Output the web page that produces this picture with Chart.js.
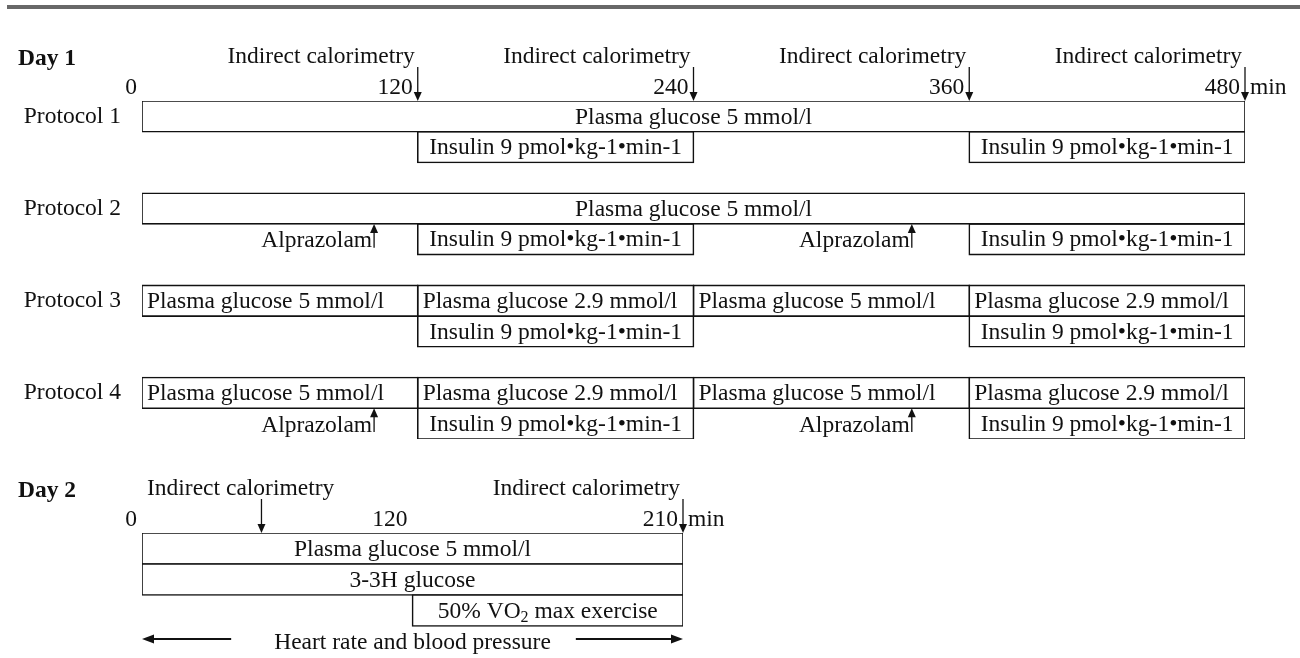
<!DOCTYPE html>
<html>
<head>
<meta charset="utf-8">
<script src="https://cdn.jsdelivr.net/npm/chart.js@4.4.1/dist/chart.umd.min.js"></script>
<style>
  html, body { margin: 0; padding: 0; background: #fff; }
  body { width: 1300px; height: 658px; position: relative; overflow: hidden; }
  .rule { position: absolute; left: 7px; right: 0; top: 5px; height: 4px; background: #686868; }
  #day1 { position: absolute; left: 0; top: 0; }
  #day2 { position: absolute; left: 0; top: 440px; }
</style>
</head>
<body>
<div class="rule"></div>
<canvas id="day1" width="1300" height="440"></canvas>
<canvas id="day2" width="1300" height="218"></canvas>
<script>
const INK = '#111';
const FAMILY = '"Liberation Serif", "Times New Roman", serif';
const FONT = '23.5px ' + FAMILY;
const BOLD = 'bold 23.5px ' + FAMILY;

// Day 1 timeline (min)
const day1Minutes = [0, 120, 240, 360, 480];
const day1Calorimetry = [120, 240, 360, 480];
const protocols = ['Protocol 1', 'Protocol 2', 'Protocol 3', 'Protocol 4'];
const glucose5 = 'Plasma glucose 5 mmol/l';
const glucose29 = 'Plasma glucose 2.9 mmol/l';
// [start, end, label] for the glucose clamp of each protocol
const clampSegments = [
    [[0, 480, glucose5]],
    [[0, 480, glucose5]],
    [[0, 120, glucose5], [120, 240, glucose29], [240, 360, glucose5], [360, 480, glucose29]],
    [[0, 120, glucose5], [120, 240, glucose29], [240, 360, glucose5], [360, 480, glucose29]]
];
const insulinPeriods = [[120, 240], [360, 480]];
const insulinLabel = 'Insulin 9 pmol•kg-1•min-1';
const alprazolamProtocols = ['Protocol 2', 'Protocol 4'];
const alprazolamMinutes = [101, 335];
const calorimetryLabel = 'Indirect calorimetry';

// Day 2 timeline (min)
const day2Minutes = [0, 120, 210];
const day2Calorimetry = [53, 210];
const day2Labels = ['Plasma glucose 5 mmol/l', '3-3H glucose', '50% VO₂ max exercise'];
const day2Start = [0, 0, 120];
const day2End = [210, 210, 210];
const monitoringLabel = 'Heart rate and blood pressure';
const monitoringSpan = [0, 210];

// schematic time axis: the listed stops are spaced evenly, linear in between
class StopScale extends Chart.LinearScale {
    static id = 'stops';
    static defaults = {};
    determineDataLimits() {
        const s = this.options.stops;
        this.min = s[0];
        this.max = s[s.length - 1];
    }
    buildTicks() {
        return this.options.stops.map(value => ({ value }));
    }
    getPixelForValue(value) {
        const s = this.options.stops, n = s.length - 1;
        let i = 0;
        while (i < n - 1 && value > s[i + 1]) i++;
        return this.getPixelForDecimal((i + (value - s[i]) / (s[i + 1] - s[i])) / n);
    }
    getValueForPixel(pixel) {
        const s = this.options.stops, n = s.length - 1;
        const f = Math.min(Math.max(this.getDecimalForPixel(pixel), 0), 1) * n;
        const i = Math.min(Math.floor(f), n - 1);
        return s[i] + (f - i) * (s[i + 1] - s[i]);
    }
}
Chart.register(StopScale);

const boxStyle = {
    backgroundColor: '#fff',
    borderColor: INK,
    borderWidth: 1.6,
    borderSkipped: false,
    inflateAmount: 0.8,
    grouped: false,
    barPercentage: 1,
    categoryPercentage: 1
};

function boxes(rowCount, entries) {
    const data = new Array(rowCount).fill(null);
    const captions = new Array(rowCount).fill('');
    const aligns = new Array(rowCount).fill('center');
    entries.forEach(e => {
        data[e.row] = [e.start, e.end];
        captions[e.row] = e.text;
        aligns[e.row] = e.align || 'center';
    });
    return Object.assign({ data, captions, aligns }, boxStyle);
}

function richText(ctx, t, x, y, align) {
    const parts = t.split('₂');
    ctx.font = FONT;
    if (parts.length === 1) {
        ctx.textAlign = align;
        ctx.fillText(t, x, y);
        return;
    }
    const small = '16px ' + FAMILY;
    const w0 = ctx.measureText(parts[0]).width;
    const w2 = ctx.measureText(parts[1]).width;
    ctx.font = small;
    const w1 = ctx.measureText('2').width;
    const total = w0 + w1 + w2;
    const sx = align === 'center' ? x - total / 2 : align === 'right' ? x - total : x;
    ctx.textAlign = 'left';
    ctx.font = FONT;
    ctx.fillText(parts[0], sx, y);
    ctx.font = small;
    ctx.fillText('2', sx + w0, y + 6);
    ctx.font = FONT;
    ctx.fillText(parts[1], sx + w0 + w1, y);
}

function vArrow(ctx, x, from, tip) {
    const dir = Math.sign(tip - from);
    ctx.beginPath();
    ctx.moveTo(x, from);
    ctx.lineTo(x, tip - dir * 8);
    ctx.stroke();
    ctx.beginPath();
    ctx.moveTo(x, tip);
    ctx.lineTo(x - 4, tip - dir * 9);
    ctx.lineTo(x + 4, tip - dir * 9);
    ctx.closePath();
    ctx.fill();
}

function hArrow(ctx, y, from, tip) {
    const dir = Math.sign(tip - from);
    ctx.save();
    ctx.lineWidth = 2;
    ctx.beginPath();
    ctx.moveTo(from, y);
    ctx.lineTo(tip - dir * 9, y);
    ctx.stroke();
    ctx.beginPath();
    ctx.moveTo(tip, y);
    ctx.lineTo(tip - dir * 12, y - 4.5);
    ctx.lineTo(tip - dir * 12, y + 4.5);
    ctx.closePath();
    ctx.fill();
    ctx.restore();
}

// text inside every box
const captionPlugin = {
    id: 'captions',
    afterDatasetsDraw(chart) {
        const ctx = chart.ctx;
        ctx.save();
        ctx.fillStyle = INK;
        ctx.textBaseline = 'middle';
        chart.data.datasets.forEach((ds, d) => {
            chart.getDatasetMeta(d).data.forEach((bar, i) => {
                const t = ds.captions[i];
                if (!t) return;
                const left = Math.min(bar.x, bar.base);
                const right = Math.max(bar.x, bar.base);
                const align = ds.aligns[i];
                const x = align === 'left' ? left + 5 : (left + right) / 2;
                richText(ctx, t, x, bar.y + 1, align);
            });
        });
        ctx.restore();
    }
};

// day title, minute ticks and calorimetry arrows above the boxes
function drawHeader(chart, title, minutes, calorimetry) {
    const { ctx, chartArea: a, scales: { x } } = chart;
    ctx.save();
    ctx.fillStyle = INK;
    ctx.strokeStyle = INK;
    ctx.lineWidth = 1.3;
    ctx.textBaseline = 'alphabetic';
    ctx.font = BOLD;
    ctx.textAlign = 'left';
    ctx.fillText(title, 18, a.top - 36);
    ctx.font = FONT;
    ctx.textAlign = 'right';
    minutes.forEach(m => ctx.fillText(String(m), x.getPixelForValue(m) - 5, a.top - 7));
    ctx.textAlign = 'left';
    ctx.fillText('min', x.getPixelForValue(minutes[minutes.length - 1]) + 5, a.top - 7);
    const w = ctx.measureText(calorimetryLabel).width;
    calorimetry.forEach(m => {
        const px = x.getPixelForValue(m);
        if (px - 3 - w >= a.left) {
            ctx.textAlign = 'right';
            ctx.fillText(calorimetryLabel, px - 3, a.top - 38);
        } else {
            ctx.textAlign = 'left';
            ctx.fillText(calorimetryLabel, a.left + 5, a.top - 38);
        }
        vArrow(ctx, px, a.top - 34, a.top);
    });
    ctx.restore();
}

// ---------- Day 1 ----------
const day1Rows = [];
protocols.forEach((p, i) => {
    day1Rows.push(p, p + ' infusion');
    if (i < protocols.length - 1) day1Rows.push(p + ' gap');
});
const rowTitle = day1Rows.map(r => protocols.includes(r) ? r : '');

const day1Sets = [];
for (let j = 0; j < 4; j++) {
    const entries = [];
    protocols.forEach((p, k) => {
        const seg = clampSegments[k][j];
        if (!seg) return;
        const whole = seg[0] === day1Minutes[0] && seg[1] === day1Minutes[day1Minutes.length - 1];
        entries.push({ row: day1Rows.indexOf(p), start: seg[0], end: seg[1], text: seg[2], align: whole ? 'center' : 'left' });
    });
    day1Sets.push(boxes(day1Rows.length, entries));
}
insulinPeriods.forEach(([s, e]) => {
    day1Sets.push(boxes(day1Rows.length, protocols.map(p => ({
        row: day1Rows.indexOf(p) + 1, start: s, end: e, text: insulinLabel
    }))));
});

const day1Decor = {
    id: 'day1Decor',
    afterDatasetsDraw(chart) {
        drawHeader(chart, 'Day 1', day1Minutes, day1Calorimetry);
        const { ctx, scales: { x, y } } = chart;
        const rowH = y.getPixelForValue(1) - y.getPixelForValue(0);
        ctx.save();
        ctx.fillStyle = INK;
        ctx.strokeStyle = INK;
        ctx.lineWidth = 1.3;
        ctx.font = FONT;
        ctx.textBaseline = 'middle';
        ctx.textAlign = 'right';
        alprazolamProtocols.forEach(p => {
            const yc = y.getPixelForValue(day1Rows.indexOf(p) + 1);
            alprazolamMinutes.forEach(m => {
                const px = x.getPixelForValue(m);
                vArrow(ctx, px, yc + rowH / 2 - 7, yc - rowH / 2);
                ctx.fillText('Alprazolam', px - 2, yc + 2);
            });
        });
        ctx.restore();
    }
};

new Chart(document.getElementById('day1'), {
    type: 'bar',
    data: { labels: day1Rows, datasets: day1Sets },
    options: {
        indexAxis: 'y',
        responsive: false,
        animation: false,
        layout: { padding: { top: 101, right: 55, bottom: 1, left: 0 } },
        plugins: { legend: { display: false }, tooltip: { enabled: false } },
        scales: {
            x: { type: 'linear', min: day1Minutes[0], max: day1Minutes[day1Minutes.length - 1], display: false },
            y: {
                grid: { display: false },
                border: { display: false },
                ticks: {
                    autoSkip: false,
                    padding: 13,
                    color: INK,
                    font: { family: FAMILY, size: 23.5 },
                    callback: (v, i) => rowTitle[i]
                },
                afterFit: s => {
                    s.width = 142;
                    s.paddingTop = 0;
                    s.paddingBottom = 0;
                }
            }
        }
    },
    plugins: [captionPlugin, day1Decor]
});

// ---------- Day 2 ----------
const day2Rows = day2Labels.concat([monitoringLabel]);
const day2Set = boxes(day2Rows.length, day2Labels.map((t, i) => ({
    row: i, start: day2Start[i], end: day2End[i], text: t
})));

const day2Decor = {
    id: 'day2Decor',
    afterDatasetsDraw(chart) {
        drawHeader(chart, 'Day 2', day2Minutes, day2Calorimetry);
        const { ctx, scales: { x, y } } = chart;
        const yc = y.getPixelForValue(day2Rows.length - 1);
        const x0 = x.getPixelForValue(monitoringSpan[0]);
        const x1 = x.getPixelForValue(monitoringSpan[1]);
        const mid = (x0 + x1) / 2;
        ctx.save();
        ctx.fillStyle = INK;
        ctx.strokeStyle = INK;
        ctx.font = FONT;
        ctx.textAlign = 'center';
        ctx.textBaseline = 'middle';
        const w = ctx.measureText(monitoringLabel).width;
        ctx.fillText(monitoringLabel, mid, yc + 1);
        hArrow(ctx, yc - 2.5, mid - w / 2 - 43, x0);
        hArrow(ctx, yc - 2.5, mid + w / 2 + 25, x1);
        ctx.restore();
    }
};

new Chart(document.getElementById('day2'), {
    type: 'bar',
    data: { labels: day2Rows, datasets: [day2Set] },
    options: {
        indexAxis: 'y',
        responsive: false,
        animation: false,
        layout: { padding: { top: 93, right: 617, bottom: 1, left: 142 } },
        plugins: { legend: { display: false }, tooltip: { enabled: false } },
        scales: {
            x: { type: 'stops', stops: day2Minutes, display: false },
            y: { display: false }
        }
    },
    plugins: [captionPlugin, day2Decor]
});
</script>
</body>
</html>
